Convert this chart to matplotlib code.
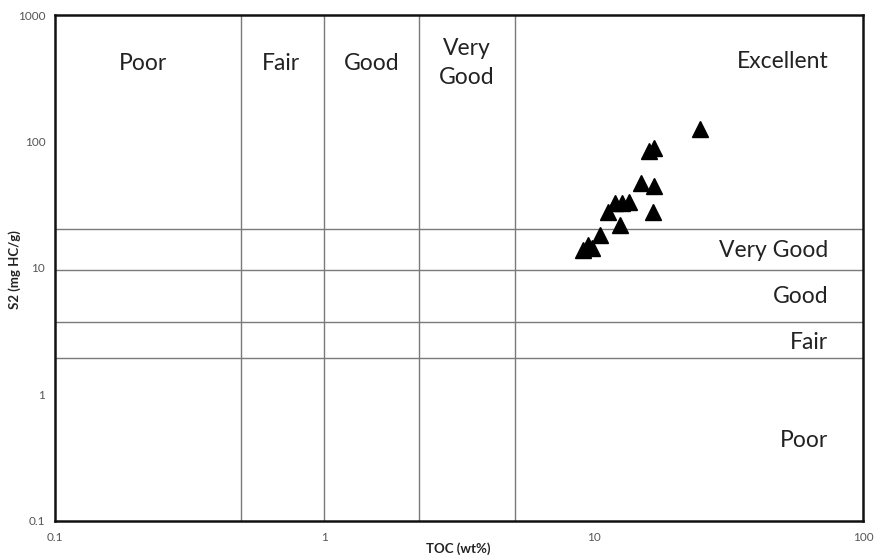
import numpy as np
import matplotlib.pyplot as plt

# TOC (wt%) and S2 (mg HC/g) of the samples
toc = [24.8, 16.0, 16.7, 15.0, 16.8, 16.6, 12.5, 11.3, 12.0, 12.7, 13.5, 10.6, 9.1, 9.5, 9.9]
s2 = [125, 84.6, 88.4, 46.7, 44.5, 27.8, 21.8, 27.8, 32.8, 32.8, 33.4, 18.2, 13.9, 15.2, 14.4]

# class boundaries
toc_bounds = [0.49, 1.0, 2.25, 5.1]
s2_bounds = [1.95, 3.75, 9.6, 20.2]

toc_classes = ["Poor", "Fair", "Good", "Very\nGood", "Excellent"]
s2_classes = ["Very Good", "Good", "Fair", "Poor"]

plt.rcParams['font.family'] = ['Lato', 'DejaVu Sans']

fig = plt.figure(figsize=(8.76, 5.57), dpi=100)
ax = fig.add_axes([55/876, (557-520.7)/557, 808/876, 505.7/557])
ax.set_xscale('log')
ax.set_yscale('log')
ax.set_xlim(0.1, 100)
ax.set_ylim(0.1, 1000)

for b in toc_bounds:
    ax.axvline(b, color='#7a7a7a', lw=1.0, zorder=1)
for b in s2_bounds:
    ax.axhline(b, color='#7a7a7a', lw=1.0, zorder=1)

ax.plot(toc, s2, linestyle='none', marker='^', ms=11, color='black', zorder=3)

# class names
top_x = [0.109, 0.280, 0.392, 0.510]
for x, name in zip(top_x, toc_classes[:4]):
    ax.text(x, 0.905, name, transform=ax.transAxes, ha='center', va='center',
            fontsize=16.5, color='#222222', linespacing=1.45)
ax.text(0.957, 0.909, toc_classes[4], transform=ax.transAxes, ha='right', va='center',
        fontsize=16.5, color='#222222')
right_y = [0.535, 0.444, 0.353, 0.159]
for y, name in zip(right_y, s2_classes):
    ax.text(0.957, y, name, transform=ax.transAxes, ha='right', va='center',
            fontsize=16.5, color='#222222')

ax.set_xticks([0.1, 1, 10, 100])
ax.set_xticklabels(['0.1', '1', '10', '100'])
ax.set_yticks([0.1, 1, 10, 100, 1000])
ax.set_yticklabels(['0.1', '1', '10', '100', '1000'])
ax.minorticks_off()
ax.tick_params(length=0, labelsize=8.5, labelcolor='#555555')
ax.tick_params(axis='x', pad=8)
ax.tick_params(axis='y', pad=7)

for sp in ax.spines.values():
    sp.set_linewidth(1.8)
    sp.set_color('#111111')

# axis titles
fig.text(458/876, 1 - 549/557, 'TOC (wt%)', ha='center', va='center',
         fontsize=9.5, fontweight='bold', color='#222222')
fig.text(15/876, 1 - 270/557, 'S2 (mg HC/g)', ha='center', va='center', rotation=90,
         fontsize=9.5, fontweight='bold', color='#222222')

fig.savefig('out.png', dpi=100)
